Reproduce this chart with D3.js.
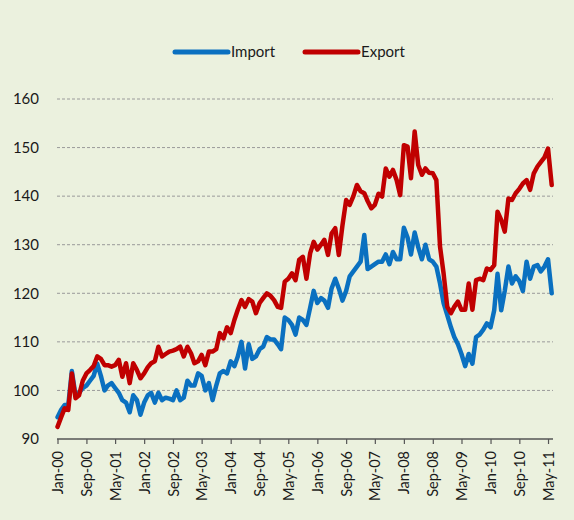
<!DOCTYPE html>
<html><head><meta charset="utf-8">
<script src="https://cdn.jsdelivr.net/npm/d3@7"></script>
<style>
html,body{margin:0;padding:0;background:#EBF1DE;}
svg{display:block;font-family:Lato,"Open Sans",sans-serif;}
</style></head>
<body><svg id="c" width="574" height="520"></svg>
<script>
// Months Jan-00 .. Jun-11
const startMonth = new Date(2000, 0, 1);
const seriesNames = ["Import", "Export"];
const importValues = [94.5,96,97,97,104,99,99.5,100.5,101,102,103,105.5,103,100,101,101.5,100.5,99.5,98,97.5,95.5,99,98,95,97.5,99,99.5,97.5,99.5,98,98.5,98.3,98,100,98,98.5,102,101,101,103.5,103,100,101.5,98,101,103.5,104,103.5,106,105,107,110,104.5,109.5,106.5,107,108.5,109,111,110.5,110.5,109.5,108.5,115,114.5,113.5,111.5,115,114.5,113.5,117,120.5,118,119,118.5,117,121,123,121,118.5,120.5,123.5,124.5,125.5,126.5,132,125,125.5,126,126.5,126.5,128,126,128.5,127,127,133.5,131.5,128,132.5,129.5,127,130,127,126.5,125.5,122,118,115.5,113,111,109.5,107.5,105,107.5,105.5,111,111.5,112.5,113.8,113,116.5,124,116.5,120.5,125.5,122,123.5,122.5,120.5,126.5,123,125.5,125.8,124.5,125.5,127,120];
const exportValues = [92.5,94.5,96.3,96,103.5,98.4,99,102,103.5,104.2,105,107,106.5,105.2,105.2,104.9,105.2,106.3,102.8,105.6,101.5,105.6,104.2,102.5,103.5,104.8,105.6,106,109,107,107.5,108,108.2,108.5,109,107,109,107.6,105.6,106,107.3,105.2,108,108,108.5,111.8,110.7,113,111.8,114.5,116.6,118.6,117.2,118.8,118.3,115.9,118,119,120,119.5,118.6,117.2,117,122.4,123,124.1,122.7,126.9,127.5,123,128.2,130.6,129,130,131,127.9,132.3,133.4,127.9,134,139.2,138.2,140,142.3,141,140.6,139,137.5,138.2,140.5,139.9,145.7,144,145.4,143.3,140.2,150.5,150.2,143.7,153.3,146.4,144.4,145.7,144.8,144.7,143.3,129.6,124.1,117.2,115.9,117.2,118.3,116.6,116.6,122,116.6,122.7,123,122.7,125.1,124.8,125.8,136.8,135.1,132.7,139.5,139.2,140.6,141.5,142.6,143.3,141.3,144.7,146.1,147,148,149.8,142.3];
const yTicks = [90,100,110,120,130,140,150,160];
const xTickLabels = ["Jan-00","Sep-00","May-01","Jan-02","Sep-02","May-03","Jan-04","Sep-04","May-05","Jan-06","Sep-06","May-07","Jan-08","Sep-08","May-09","Jan-10","Sep-10","May-11"];
const colors = ["#0A70C0", "#C00000"];

const months = importValues.map((_, i) => d3.timeMonth.offset(startMonth, i));
const svg = d3.select("#c");

const x = d3.scaleTime().domain([months[0], months[months.length-1]]).range([57.5, 551.7]);
const y = d3.scaleLinear().domain([90, 160]).range([439, 99]);

// gridlines
svg.append("g").selectAll("line").data(yTicks.filter(v => v > 90)).join("line")
  .attr("x1", 57).attr("x2", 553)
  .attr("y1", d => y(d)).attr("y2", d => y(d))
  .attr("stroke", "#9a9a9a").attr("stroke-width", 1).attr("stroke-dasharray", "3,2");

// y axis labels
const yAxis = d3.axisLeft(y).tickValues(yTicks).tickSize(0).tickPadding(0).tickFormat(d3.format("d"));
const gy = svg.append("g").attr("transform", "translate(39,0)").call(yAxis);
gy.select(".domain").remove();
gy.selectAll("text").attr("font-size", 15).attr("fill", "#1a1a1a").attr("font-family", "Lato, sans-serif");

// x axis
const tickDates = xTickLabels.map((_, i) => months[i*8]);
const xAxis = d3.axisBottom(x).tickValues(tickDates).tickSize(5).tickSizeOuter(0)
  .tickFormat((d, i) => xTickLabels[i]);
const gx = svg.append("g").attr("transform", "translate(0,439)").call(xAxis);
gx.select(".domain").attr("stroke", "#555").attr("stroke-width", 1.5).attr("d", "M" + 57 + ",0H553");
gx.selectAll(".tick line").attr("stroke", "#555").attr("stroke-width", 1.2);
gx.selectAll("text")
  .attr("font-size", 14.5).attr("fill", "#1a1a1a").attr("font-family", "Lato, sans-serif")
  .attr("transform", "rotate(-90)")
  .attr("text-anchor", "end").attr("dy", "0.35em").attr("x", -12).attr("y", 0);

// lines
const line = d3.line().x((d, i) => x(months[i])).y(d => y(d));
[importValues, exportValues].forEach((vals, k) => {
  svg.append("path").datum(vals).attr("d", line)
    .attr("fill", "none").attr("stroke", colors[k]).attr("stroke-width", 4.5)
    .attr("stroke-linejoin", "round").attr("stroke-linecap", "round");
});

// legend
const legend = svg.append("g").attr("font-family", "Lato, sans-serif").attr("font-size", 15);
const legendX = [175, 305];
seriesNames.forEach((name, k) => {
  legend.append("line").attr("x1", legendX[k]).attr("x2", legendX[k] + 53)
    .attr("y1", 52).attr("y2", 52).attr("stroke", colors[k]).attr("stroke-width", 5)
    .attr("stroke-linecap", "round");
  legend.append("text").attr("x", legendX[k] + 56).attr("y", 52).attr("dy", "0.35em")
    .attr("fill", "#1a1a1a").text(name);
});
</script></body></html>
